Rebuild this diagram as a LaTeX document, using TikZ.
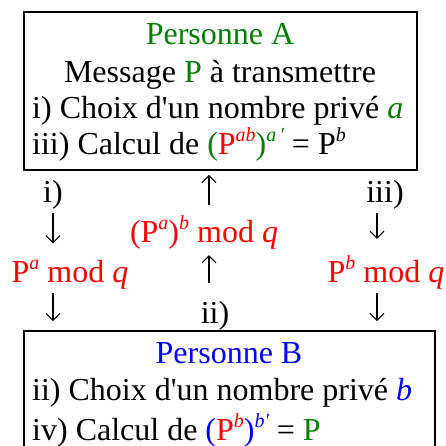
\documentclass[tikz,border=0pt]{standalone}
\usepackage{fontspec}
\setmainfont{Liberation Serif}[Ligatures=TeXOff]
\usepackage{tikz}
\usetikzlibrary{arrows.meta}
\definecolor{vert}{RGB}{0,128,0}
\newcommand{\expo}[1]{\raisebox{13pt}{\fontsize{20}{20}\selectfont\itshape #1}}

\begin{document}
\begin{tikzpicture}[x=1pt,y=-1pt,
  txt/.style={font=\fontsize{32}{37}\selectfont,inner sep=0pt},
  boite/.style={draw,line width=1.6pt,inner sep=0pt},
  fl/.style={line width=1.1pt,-{Straight Barb[length=7pt,width=14pt]}}]
\useasboundingbox (0,0) rectangle (445,446);
\node[boite,minimum width=393pt,minimum height=158pt] (boxA) at (220.5,91) {};
\node[boite,minimum width=411pt,minimum height=140pt] (boxB) at (229.5,401) {};
\coordinate (lx) at (53,0);
\coordinate (cx) at (209,0);
\coordinate (rx) at (377,0);

\node[txt,anchor=base,vert] (persA) at (220,45) {Personne A};
\node[txt,anchor=base] (msg) at (220,83) {Message \textcolor{vert}{P} à transmettre};
\node[txt,anchor=base west] (choixA) at (32,119) {i) Choix d'un nombre privé \textcolor{vert}{\itshape a}};
\node[txt,anchor=base west] (calcA) at (32,155) {iii) Calcul de \textcolor{vert}{(}\textcolor{red}{P\expo{ab}}\textcolor{vert}{)\expo{a\,'}} = P\expo{b}};

\node[txt,anchor=base] (i) at (53,202) {i)};
\node[txt,anchor=base] (iii) at (385,202) {iii)};
\node[txt,anchor=base,red] (pab) at (204,242) {(P\expo{a})\expo{b} mod \textit{q}};
\node[txt,anchor=base,red] (pa) at (70,282) {P\expo{a} mod \textit{q}};
\node[txt,anchor=base,red] (pb) at (386,282) {P\expo{b} mod \textit{q}};
\node[txt,anchor=base] (ii) at (215,323) {ii)};

\node[txt,anchor=base,blue] (persB) at (229,363) {Personne B};
\node[txt,anchor=base west] (choixB) at (32,400) {ii) Choix d'un nombre privé \textcolor{blue}{\itshape b}};
\node[txt,anchor=base west] (calcB) at (32,440) {iv) Calcul de \textcolor{blue}{(}\textcolor{red}{P\expo{b}}\textcolor{blue}{)\expo{b'}} = \textcolor{vert}{P}};

\draw[fl,shorten <=4pt,shorten >=16pt] (i.south -| lx) -- (pa.north -| lx);
\draw[fl,shorten <=4pt,shorten >=16pt] (iii.south -| rx) -- (pb.north -| rx);
\draw[fl,shorten <=10pt,shorten >=4pt] (pab.north -| cx) -- (boxA.south -| cx);
\draw[fl,shorten <=18pt,shorten >=6pt] (ii.north -| cx) -- (pab.south -| cx);
\draw[fl,shorten <=4pt,shorten >=9pt] (pa.south -| lx) -- (boxB.north -| lx);
\draw[fl,shorten <=4pt,shorten >=9pt] (pb.south -| rx) -- (boxB.north -| rx);
\end{tikzpicture}
\end{document}
